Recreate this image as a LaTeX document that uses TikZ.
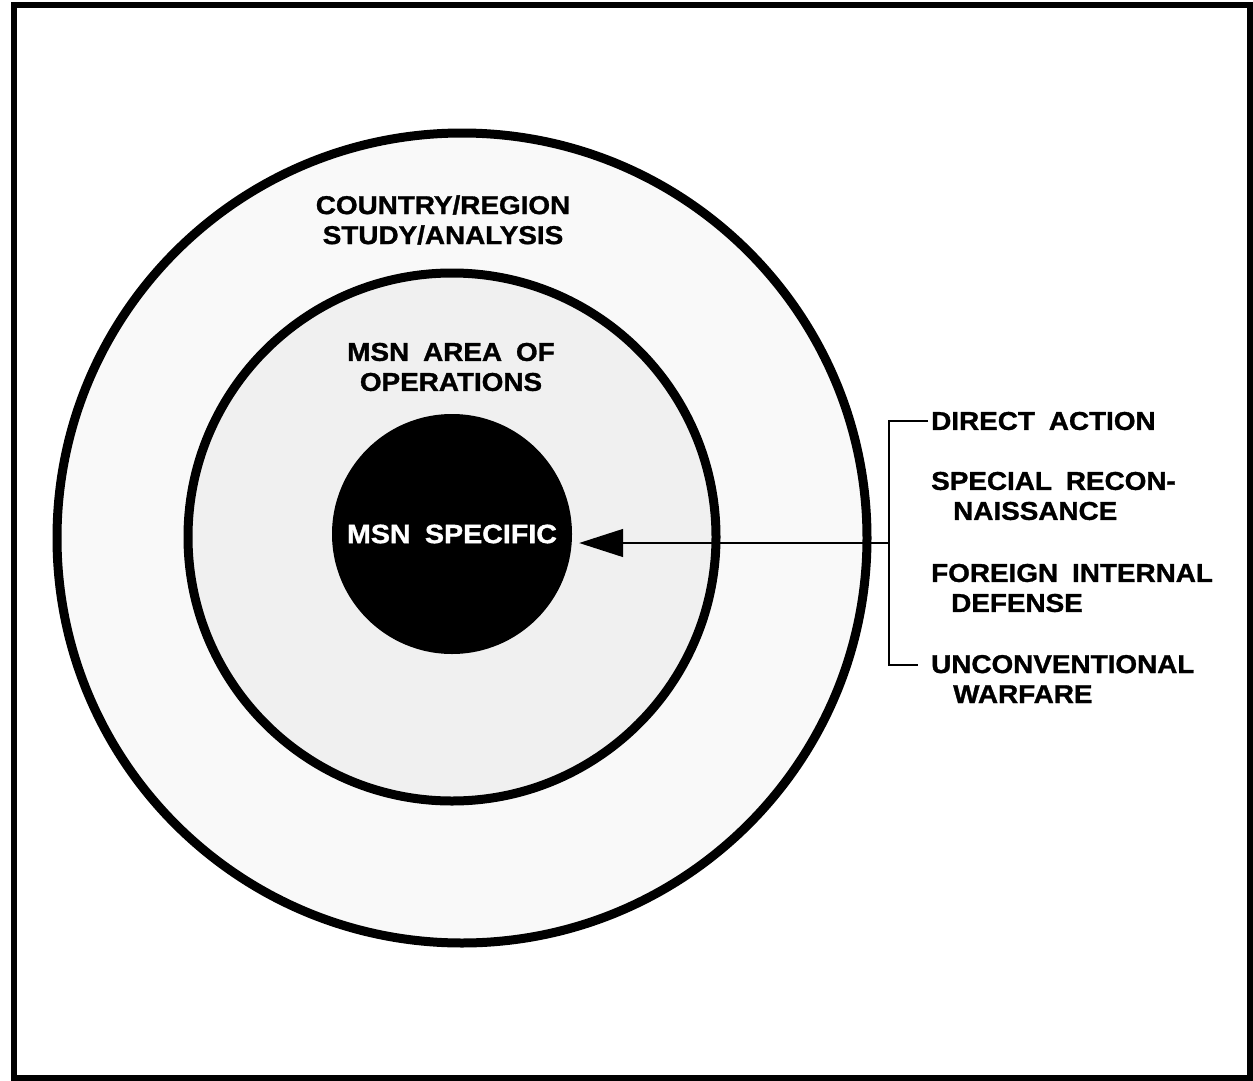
\documentclass[tikz,border=0pt]{standalone}
\usepackage{fontspec}
\newfontfamily\labfont{Liberation Sans}[FakeStretch=1.08, WordSpace=1.8, FakeBold=1.2]
\usetikzlibrary{arrows.meta}
\begin{document}
\begin{tikzpicture}[x=1pt,y=-1pt,
  lab/.style={font={\labfont\bfseries\fontsize{25.8}{30}\selectfont}, inner sep=0pt, align=left},
  ring/.style={line width=9pt, draw=black},
  disc/.style={circle, fill=black, minimum size=240pt, inner sep=0pt, text=white,
    font={\labfont\bfseries\fontsize{26.5}{30}\selectfont}},
  thinline/.style={line width=1.4pt, draw=black}]
\useasboundingbox (0,0) rectangle (1253,1081);
\fill[white] (0,0) rectangle (1253,1081);
% frame
\draw[line width=6pt] (13.5,5.5) rectangle (1250,1078);
% rings
\draw[ring, fill=gray!5] (462,538) circle[radius=405];
\draw[ring, fill=gray!12] (452,537) circle[radius=264];
\node[disc] (ms) at (452,534) {MSN SPECIFIC};
% ring labels
\node[lab, align=center] (cr) at (443,220) {COUNTRY/REGION\\STUDY/ANALYSIS};
\node[lab, align=center] (ao) at (451,367) {MSN AREA OF\\OPERATIONS};
% right labels
\node[lab, anchor=west] (da) at (931,421) {DIRECT ACTION};
\node[lab, anchor=west] (sr) at (931,496) {SPECIAL RECON-\\\hspace*{22pt}NAISSANCE};
\node[lab, anchor=west] (fi) at (931,588) {FOREIGN INTERNAL\\\hspace*{20pt}DEFENSE};
\node[lab, anchor=west] (uw) at (931,679) {UNCONVENTIONAL\\\hspace*{22pt}WARFARE};
% bracket
\coordinate (bt) at (889,421);
\coordinate (bb) at (889,665);
\coordinate (bm) at (889,543);
\coordinate (bbe) at (918,665);
\draw[thinline] ([xshift=-3pt]da.west) -- (bt) -- (bb) -- (bbe);
\draw[thinline, -{Triangle[length=44pt,width=28pt]}, shorten >=7pt] (bm) -- (bm -| ms.east);
\end{tikzpicture}
\end{document}
